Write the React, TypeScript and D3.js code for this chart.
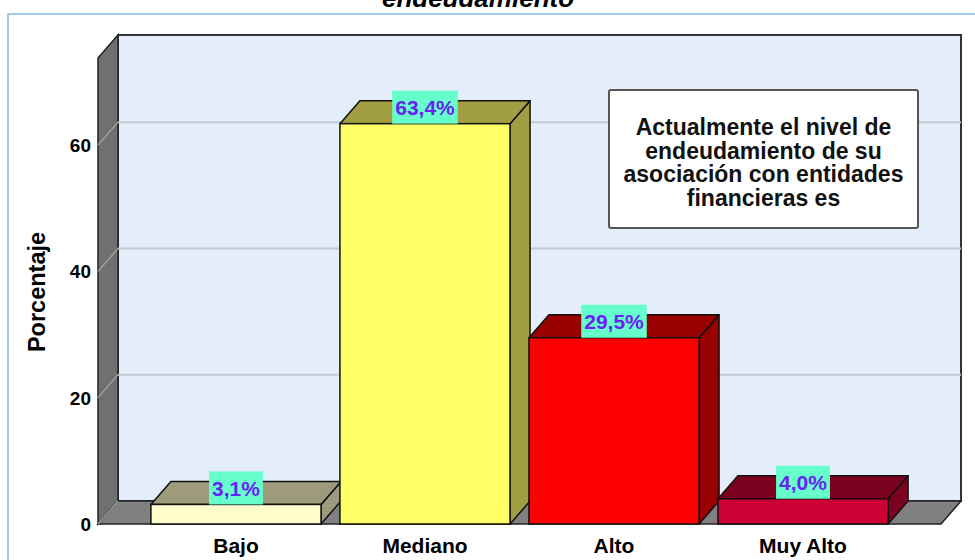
import React from "react";
import * as d3 from "d3";

const categories = ["Bajo", "Mediano", "Alto", "Muy Alto"];
const values = [3.1, 63.4, 29.5, 4.0];
const valueLabels = ["3,1%", "63,4%", "29,5%", "4,0%"];
const yTicks = [0, 20, 40, 60];
const frontColors = ["#FFFDCC", "#FFFF66", "#FF0000", "#CC0033"];
const shadeColors = ["#9D9B7B", "#A29E42", "#990000", "#7C001F"];
const legendLines = [
  "Actualmente el nivel de",
  "endeudamiento de su",
  "asociación con entidades",
  "financieras es",
];
const titleText = "endeudamiento";
const yTitle = "Porcentaje";

const FONT = "'Liberation Sans', Arial, sans-serif";
const W = 975;
const H = 560;
const DX = 20;
const DY = -23;

function measure(text: string, font: string): number {
  const c = document.createElement("canvas").getContext("2d");
  if (!c) return text.length * 10;
  c.font = font;
  return c.measureText(text).width;
}

export default function App() {
  const x0 = 98;
  const x1 = 941;
  const yBottom = 524;
  const yTop = 58;

  const x = d3
    .scaleBand<string>()
    .domain(categories)
    .range([x0, x1])
    .paddingInner(0.1)
    .paddingOuter(0.28);
  const y = d3.scaleLinear().domain([0, 73.8]).range([yBottom, yTop]);

  const bw = x.bandwidth();

  const leftWall = `M${x0},${yBottom}L${x0},${yTop}L${x0 + DX},${yTop + DY}L${x0 + DX},${yBottom + DY}Z`;
  const floor = `M${x0},${yBottom}L${x0 + DX},${yBottom + DY}L${x1 + DX},${yBottom + DY}L${x1},${yBottom}Z`;

  const labelFont = `bold 21px ${FONT}`;

  return (
    <svg
      width={W}
      height={H}
      style={{ position: "absolute", left: 0, top: 0, background: "#fff" }}
      fontFamily={FONT}
    >
      {/* outer frame */}
      <rect x={8} y={14} width={1000} height={600} fill="#fff" stroke="#A9C8EC" strokeWidth={2} />
      {/* title (cut off at the top, as in the source) */}
      <text
        x={478}
        y={7}
        textAnchor="middle"
        fontSize={26}
        fontWeight="bold"
        fontStyle="italic"
        fill="#000"
      >
        {titleText}
      </text>

      {/* back wall */}
      <rect
        x={x0 + DX}
        y={yTop + DY}
        width={x1 - x0}
        height={yBottom - yTop}
        fill="#E3EEFA"
        stroke="#333"
        strokeWidth={2}
      />
      {/* left wall */}
      <path d={leftWall} fill="#707070" stroke="#222" strokeWidth={1.5} />
      {/* floor */}
      <path d={floor} fill="#808080" stroke="#222" strokeWidth={1.5} />

      {/* gridlines */}
      {yTicks.filter((t) => t > 0).map((t) => (
        <g key={t}>
          <line
            x1={x0 + DX}
            x2={x1 + DX}
            y1={y(t) + DY}
            y2={y(t) + DY}
            stroke="#C4C9D1"
            strokeWidth={2}
          />
          <line
            x1={x0}
            x2={x0 + DX}
            y1={y(t)}
            y2={y(t) + DY}
            stroke="#A8A8A8"
            strokeWidth={1.2}
          />
        </g>
      ))}
      <line x1={x0} x2={x0 + DX} y1={y(0)} y2={y(0) + DY} stroke="#A8A8A8" strokeWidth={1.2} />

      {/* tick labels */}
      {yTicks.map((t) => (
        <text
          key={t}
          x={91}
          y={y(t) + 7}
          textAnchor="end"
          fontSize={19}
          fontWeight="bold"
          fill="#000"
        >
          {t}
        </text>
      ))}

      {/* y title */}
      <text
        transform={`translate(45,292) rotate(-90)`}
        textAnchor="middle"
        fontSize={23.5}
        fontWeight="bold"
        fill="#000"
      >
        {yTitle}
      </text>

      {/* bars */}
      {categories.map((c, i) => {
        const bx = x(c) as number;
        const top = y(values[i]);
        const bot = y(0);
        const side = `M${bx + bw},${bot}L${bx + bw},${top}L${bx + bw + DX},${top + DY}L${bx + bw + DX},${bot + DY}Z`;
        const topFace = `M${bx},${top}L${bx + DX},${top + DY}L${bx + bw + DX},${top + DY}L${bx + bw},${top}Z`;
        return (
          <g key={c}>
            <path d={side} fill={shadeColors[i]} stroke="#111" strokeWidth={1.5} strokeLinejoin="round" />
            <path d={topFace} fill={shadeColors[i]} stroke="#111" strokeWidth={1.5} strokeLinejoin="round" />
            <rect x={bx} y={top} width={bw} height={bot - top} fill={frontColors[i]} stroke="#111" strokeWidth={1.5} />
          </g>
        );
      })}

      {/* value labels */}
      {categories.map((c, i) => {
        const cx = (x(c) as number) + bw / 2;
        const top = y(values[i]);
        const tw = measure(valueLabels[i], labelFont);
        const boxW = tw + 6;
        return (
          <g key={c + "-lbl"}>
            <rect x={cx - boxW / 2} y={top - 33} width={boxW} height={33} fill="#66FFCC" />
            <text
              x={cx}
              y={top - 8.5}
              textAnchor="middle"
              fontSize={21}
              fontWeight="bold"
              fill="#6B22F5"
            >
              {valueLabels[i]}
            </text>
          </g>
        );
      })}

      {/* category labels */}
      {categories.map((c) => (
        <text
          key={c + "-cat"}
          x={(x(c) as number) + bw / 2}
          y={553}
          textAnchor="middle"
          fontSize={21}
          fontWeight="bold"
          fill="#000"
        >
          {c}
        </text>
      ))}

      {/* legend box */}
      <rect x={609} y={90} width={309} height={138} rx={2} fill="#fff" stroke="#555" strokeWidth={2} />
      {legendLines.map((l, i) => (
        <text
          key={i}
          x={763.5}
          y={135 + i * 23.7}
          textAnchor="middle"
          fontSize={23}
          fontWeight="bold"
          fill="#111"
        >
          {l}
        </text>
      ))}
    </svg>
  );
}
